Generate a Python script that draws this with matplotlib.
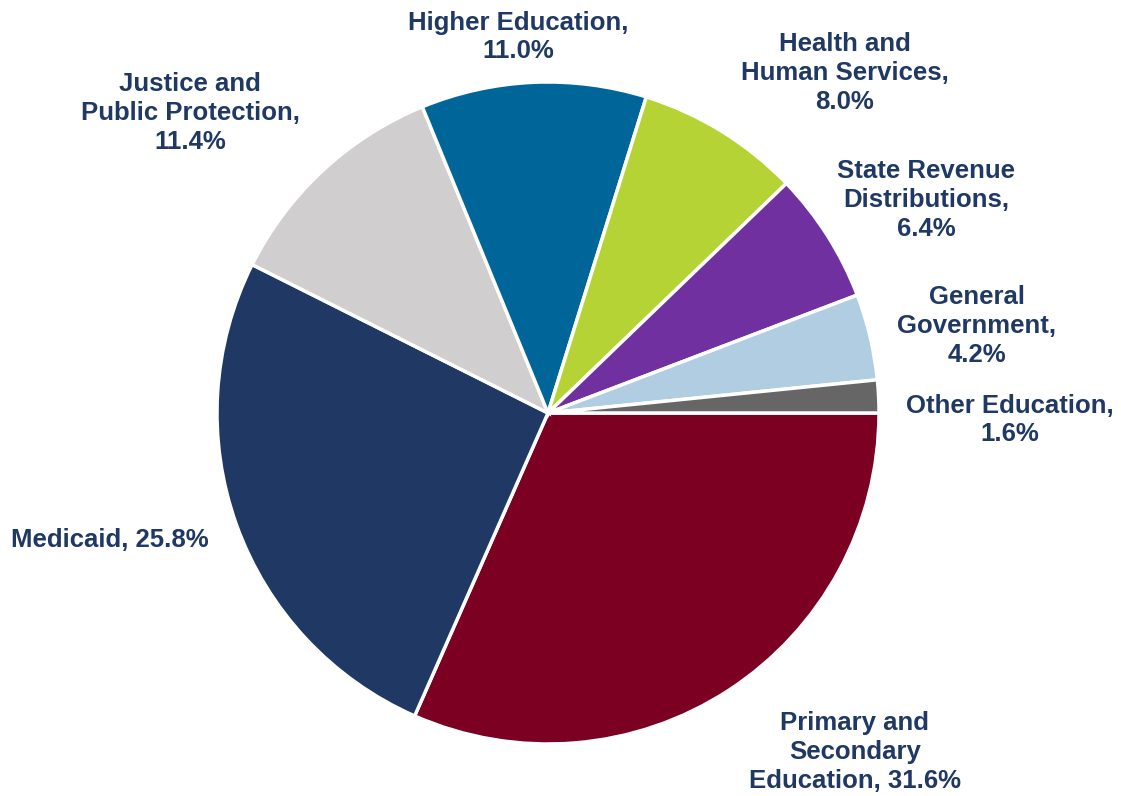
import matplotlib
matplotlib.use("Agg")
import matplotlib.pyplot as plt

categories = ["Primary and\nSecondary\nEducation, 31.6%", "Medicaid, 25.8%",
              "Justice and\nPublic Protection,\n11.4%", "Higher Education,\n11.0%",
              "Health and\nHuman Services,\n8.0%", "State Revenue\nDistributions,\n6.4%",
              "General\nGovernment,\n4.2%", "Other Education,\n1.6%"]
values = [31.6, 25.8, 11.4, 11.0, 8.0, 6.4, 4.2, 1.6]
colors = ["#7B0022", "#1F3864", "#D0CECE", "#006699", "#B5D334", "#7030A0", "#B0CDE2", "#666666"]

W, H = 1121, 796
cx, cy, R = 548, 413, 331

# label centre positions in pixels (layout)
label_px = [(855, 752), (110, 540), (190, 113), (518, 37),
            (845, 73), (926, 200), (977, 326), (1010, 420)]

fig = plt.figure(figsize=(W / 100, H / 100), dpi=100)
ax = fig.add_axes([(cx - R) / W, (H - cy - R) / H, 2 * R / W, 2 * R / H])
ax.pie(values, colors=colors, startangle=0, counterclock=False, radius=1,
       wedgeprops=dict(edgecolor="white", linewidth=2.5))
ax.set_xlim(-1, 1)
ax.set_ylim(-1, 1)
ax.set_clip_on(False)

for lab, (px, py) in zip(categories, label_px):
    fig.text(px / W, 1 - py / H, lab, ha="center", va="center",
             fontsize=18.5, fontweight="bold", color="#1F3864",
             family="Liberation Sans", linespacing=1.25)

fig.savefig("out.png", dpi=100)
